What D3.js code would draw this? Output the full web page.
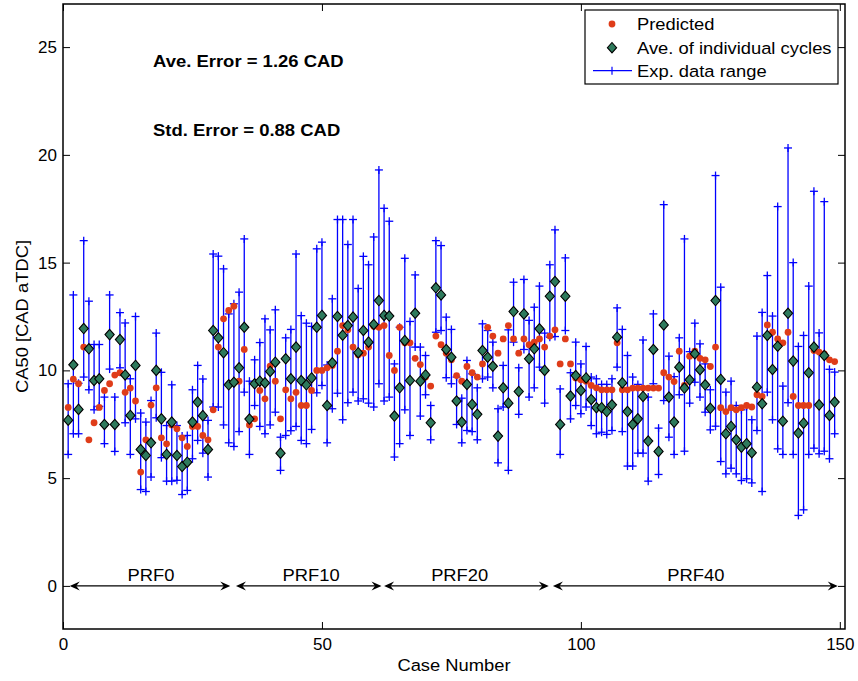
<!DOCTYPE html>
<html>
<head>
<meta charset="utf-8">
<script src="https://cdn.jsdelivr.net/npm/d3@7"></script>
<style>
  html, body { margin: 0; padding: 0; background: #fff; }
  svg { display: block; font-family: "Liberation Sans", Arial, Helvetica, sans-serif; }
</style>
</head>
<body>
<svg id="chart" width="858" height="681"></svg>
<script>
// CA50 per test case: model prediction, mean of individual cycles, experimental min/max
const caseNumbers = d3.range(1, 150);

const predicted = [
  8.28, 9.59, 9.38, 11.08, 6.78, 7.57, 8.28, 9.07, 9.38, 9.78,
  9.89, 8.98, 9.18, 8.58, 5.28, 6.78, 8.39, 9.19, 6.87, 6.59,
  7.47, 7.29, 6.87, 6.47, 7.40, 7.40, 6.98, 6.78, 8.17, 11.08,
  12.39, 12.78, 12.98, 9.50, 10.97, 7.47, 7.75, 9.07, 8.68, 10.20,
  9.50, 7.75, 9.10, 8.68, 8.98, 8.37, 8.37, 9.07, 10.00, 10.00,
  10.12, 10.23, 10.89, 12.08, 11.88, 11.08, 10.72, 10.80, 11.08, 12.05,
  12.00, 12.08, 10.69, 10.00, 12.00, 11.28, 11.28, 10.56, 10.27, 9.69,
  9.27, 11.59, 11.19, 10.80, 10.49, 9.76, 9.50, 10.18, 9.89, 9.69,
  10.30, 12.00, 11.59, 10.80, 11.46, 12.08, 11.46, 10.80, 11.46, 11.19,
  11.31, 11.46, 11.08, 11.59, 11.88, 10.30, 11.46, 10.30, 9.65, 9.56,
  9.50, 9.30, 9.19, 9.10, 9.10, 9.10, 11.28, 9.10, 9.10, 9.18,
  9.18, 9.18, 9.18, 9.18, 9.18, 9.89, 9.69, 9.48, 10.89, 9.30,
  10.66, 10.89, 10.56, 10.49, 10.18, 11.08, 8.27, 8.09, 8.27, 8.17,
  8.27, 8.37, 8.30, 8.87, 8.79, 12.11, 11.77, 11.46, 11.28, 11.77,
  8.79, 8.37, 8.37, 8.37, 10.92, 10.85, 10.77, 10.49, 10.41
];

const aveCycles = [
  7.69, 10.26, 8.19, 11.94, 11.00, 9.53, 9.61, 7.49, 11.66, 7.49,
  11.43, 9.79, 7.91, 10.23, 6.33, 6.05, 6.64, 10.00, 7.75, 6.10,
  7.60, 6.05, 5.54, 5.74, 7.60, 8.53, 7.90, 6.33, 11.85, 11.51,
  10.82, 9.33, 9.45, 10.12, 12.00, 7.74, 9.38, 9.50, 9.42, 9.95,
  10.38, 6.16, 10.54, 9.61, 11.08, 9.53, 9.33, 9.65, 12.00, 12.55,
  8.37, 10.35, 12.50, 11.63, 12.08, 12.47, 10.82, 11.85, 11.31, 12.13,
  13.24, 12.55, 12.52, 7.88, 9.19, 11.38, 9.53, 12.65, 9.50, 9.79,
  7.57, 13.83, 13.50, 10.97, 10.61, 8.58, 7.60, 9.35, 8.42, 7.96,
  10.92, 10.61, 10.19, 6.95, 9.19, 8.48, 12.73, 9.02, 12.62, 10.54,
  11.00, 11.93, 10.00, 13.44, 14.12, 7.49, 13.44, 8.81, 9.76, 9.07,
  9.65, 8.65, 8.27, 8.27, 8.09, 8.40, 11.54, 9.42, 8.09, 7.49,
  7.75, 8.79, 6.72, 10.97, 6.24, 12.11, 8.76, 7.60, 10.15, 9.18,
  9.56, 10.77, 10.03, 9.33, 8.24, 13.24, 9.58, 7.06, 7.40, 6.78,
  6.44, 6.60, 6.18, 9.22, 8.45, 11.62, 10.04, 11.12, 7.64, 12.65,
  10.43, 7.09, 7.55, 9.89, 11.08, 8.40, 10.69, 7.91, 8.53
];

const rangeLow = [
  6.10, 7.06, 7.06, 9.69, 9.10, 8.17, 8.33, 6.60, 10.06, 6.24,
  10.12, 7.57, 6.10, 7.75, 4.47, 4.38, 5.05, 7.80, 5.95, 4.86,
  4.86, 4.90, 4.24, 4.43, 5.90, 6.75, 6.16, 5.05, 8.30, 8.30,
  7.47, 6.64, 6.47, 7.16, 8.99, 6.10, 8.37, 7.40, 7.06, 7.47,
  8.06, 5.36, 6.98, 7.20, 7.40, 6.75, 6.60, 7.26, 8.96, 9.30,
  6.64, 8.22, 8.94, 7.71, 8.50, 8.99, 8.58, 8.68, 8.48, 8.30,
  9.38, 8.58, 8.76, 5.98, 6.60, 8.17, 6.98, 11.08, 7.88, 8.87,
  6.78, 11.77, 11.85, 9.66, 9.38, 7.49, 6.64, 7.21, 7.16, 6.78,
  9.61, 9.69, 9.19, 5.71, 8.30, 5.36, 11.31, 7.96, 10.97, 8.76,
  9.19, 10.15, 8.48, 11.54, 11.57, 6.10, 11.85, 7.75, 8.37, 7.99,
  8.30, 7.44, 7.06, 7.13, 7.03, 7.21, 10.15, 7.16, 5.56, 5.56,
  6.16, 6.16, 4.86, 9.38, 5.17, 8.60, 6.90, 6.10, 8.87, 6.25,
  8.48, 9.45, 8.76, 8.06, 7.24, 7.41, 5.77, 5.20, 5.46, 5.20,
  4.89, 4.97, 4.78, 7.21, 4.38, 8.99, 7.71, 6.36, 6.10, 8.50,
  6.10, 3.27, 3.53, 6.10, 6.39, 6.13, 6.25, 5.90, 7.06
];

const rangeHigh = [
  9.38, 13.50, 9.40, 16.02, 13.21, 11.20, 11.20, 8.76, 13.50, 8.76,
  12.68, 12.20, 9.61, 12.50, 8.02, 7.60, 8.60, 11.73, 9.91, 7.44,
  9.33, 7.44, 6.95, 6.98, 9.10, 10.23, 9.60, 7.68, 15.40, 15.30,
  14.71, 12.62, 13.09, 13.63, 16.10, 9.50, 10.49, 11.29, 12.39, 11.88,
  12.81, 6.90, 11.51, 11.90, 15.40, 12.54, 12.19, 12.04, 15.64, 15.95,
  10.25, 13.32, 17.00, 17.00, 15.84, 17.00, 13.80, 15.29, 14.90, 16.19,
  19.30, 17.52, 16.92, 10.30, 12.00, 15.20, 12.27, 14.43, 11.08, 10.69,
  8.37, 16.02, 15.79, 12.47, 11.90, 9.69, 8.71, 10.46, 9.84, 9.19,
  12.16, 11.85, 11.31, 8.22, 10.23, 11.88, 14.09, 10.12, 14.22, 12.32,
  12.93, 13.91, 11.73, 14.90, 16.52, 9.14, 15.22, 9.89, 11.31, 10.30,
  11.11, 9.69, 9.61, 9.35, 9.35, 9.61, 12.90, 11.90, 10.69, 9.69,
  9.35, 11.41, 8.76, 12.62, 7.32, 17.69, 10.66, 9.71, 11.51, 16.10,
  10.87, 12.19, 11.23, 10.30, 9.10, 19.04, 13.86, 8.99, 9.50, 8.37,
  8.17, 8.33, 7.71, 11.59, 12.69, 14.40, 12.52, 17.60, 9.27, 20.32,
  15.00, 11.11, 11.62, 13.91, 18.31, 11.74, 17.83, 10.05, 9.92
];

// Axis ticks
const xTickValues = [0, 50, 100, 150];
const yTickValues = [0, 5, 10, 15, 20, 25];

// Fuel-reformate groups, marked along CA50 = 0
const prfNames = ["PRF0", "PRF10", "PRF20", "PRF40"];
const prfStart = [1.3, 33.4, 62.0, 94.6];
const prfEnd = [32.3, 61.5, 93.8, 149.6];
const prfLabelAt = [17.0, 47.9, 76.6, 122.2];

const statLines = ["Ave. Error = 1.26 CAD", "Std. Error = 0.88 CAD"];
const legendLabels = ["Predicted", "Ave. of individual cycles", "Exp. data range"];
const axisLabels = { x: "Case Number", y: "CA50 [CAD aTDC]" };

// ---------------------------------------------------------------
const W = 858, H = 681;
const plot = { left: 63, right: 845, top: 4, bottom: 629 };
const colors = { pred: "#df3c19", ave: "#2e7a5c", range: "#0000ff" };
const FONT = 17, SX = 1.08;

const svg = d3.select("#chart");
const x = d3.scaleLinear().domain([0, 151]).range([plot.left, plot.right]);
const y = d3.scaleLinear().domain([-2, 27]).range([plot.bottom, plot.top]);

function label(parent, px, py, str, opt = {}) {
  const size = opt.size || FONT;
  const sx = opt.sx || SX;
  const rot = opt.rotate ? ` rotate(${opt.rotate})` : "";
  return parent.append("text")
    .attr("transform", `translate(${px},${py})${rot} scale(${sx},1)`)
    .attr("text-anchor", opt.anchor || "start")
    .attr("font-size", size)
    .attr("font-weight", opt.weight || "normal")
    .attr("fill", "#000")
    .text(str);
}

svg.append("rect").attr("width", W).attr("height", H).attr("fill", "#fff");

// Axes with inward ticks on all four sides
const tick = -7;
const gx = svg.append("g").attr("transform", `translate(0,${plot.bottom})`)
  .call(d3.axisBottom(x).tickValues(xTickValues).tickSizeInner(tick).tickSizeOuter(0).tickPadding(9));
const gy = svg.append("g").attr("transform", `translate(${plot.left},0)`)
  .call(d3.axisLeft(y).tickValues(yTickValues).tickSizeInner(tick).tickSizeOuter(0).tickPadding(6));
const gt = svg.append("g").attr("transform", `translate(0,${plot.top})`)
  .call(d3.axisTop(x).tickValues(xTickValues).tickSizeInner(tick).tickSizeOuter(0).tickFormat(""));
const gr = svg.append("g").attr("transform", `translate(${plot.right},0)`)
  .call(d3.axisRight(y).tickValues(yTickValues).tickSizeInner(tick).tickSizeOuter(0).tickFormat(""));
[gx, gy, gt, gr].forEach(g => {
  g.select(".domain").remove();
  g.selectAll(".tick line").attr("stroke", "#000").attr("stroke-width", 1);
  g.selectAll(".tick text").attr("font-size", FONT).attr("fill", "#000")
    .attr("font-family", "Liberation Sans, Arial, sans-serif");
});

// Group arrows along zero
const arrowG = svg.append("g");
const headLen = 10, headHalf = 4.5, notch = 3.5;
prfNames.forEach((name, i) => {
  const x0 = x(prfStart[i]), x1 = x(prfEnd[i]), y0 = y(0);
  arrowG.append("line").attr("x1", x0 + 2).attr("x2", x1 - 2)
    .attr("y1", y0).attr("y2", y0).attr("stroke", "#000").attr("stroke-width", 1.2);
  [[x0, 1], [x1, -1]].forEach(([tx, d]) => {
    const p = d3.path();
    p.moveTo(tx, y0);
    p.lineTo(tx + d * headLen, y0 - headHalf);
    p.lineTo(tx + d * (headLen - notch), y0);
    p.lineTo(tx + d * headLen, y0 + headHalf);
    p.closePath();
    arrowG.append("path").attr("d", p.toString()).attr("fill", "#000");
  });
  label(arrowG, x(prfLabelAt[i]), y(0) - 5, name, { anchor: "middle" });
});

// Experimental range: vertical line with + at each end
const rangeG = svg.append("g").attr("stroke", colors.range).attr("stroke-width", 1.3).attr("fill", "none");
const plus = 4;
caseNumbers.forEach((c, i) => {
  const cx = x(c), yl = y(rangeLow[i]), yh = y(rangeHigh[i]);
  rangeG.append("line").attr("x1", cx).attr("x2", cx).attr("y1", yl).attr("y2", yh);
  [yl, yh].forEach(yy => {
    rangeG.append("line").attr("x1", cx - plus).attr("x2", cx + plus).attr("y1", yy).attr("y2", yy);
    rangeG.append("line").attr("x1", cx).attr("x2", cx).attr("y1", yy - plus).attr("y2", yy + plus);
  });
});

// Predicted CA50
svg.append("g").selectAll("circle").data(caseNumbers).join("circle")
  .attr("cx", d => x(d)).attr("cy", (d, i) => y(predicted[i]))
  .attr("r", 3.4).attr("fill", colors.pred);

// Mean of individual cycles
const diamond = "M0,-5.2L4.6,0L0,5.2L-4.6,0Z";
svg.append("g").selectAll("path").data(caseNumbers).join("path")
  .attr("d", diamond)
  .attr("transform", (d, i) => `translate(${x(d)},${y(aveCycles[i])})`)
  .attr("fill", colors.ave).attr("stroke", "#000").attr("stroke-width", 1.1);

// Plot frame
svg.append("rect").attr("x", plot.left).attr("y", plot.top)
  .attr("width", plot.right - plot.left).attr("height", plot.bottom - plot.top)
  .attr("fill", "none").attr("stroke", "#000").attr("stroke-width", 1.5);

// Error statistics
label(svg, 153, 66.5, statLines[0], { weight: "bold", size: 16.5, sx: 1.12 });
label(svg, 153, 135.5, statLines[1], { weight: "bold", size: 16.5, sx: 1.12 });

// Legend
const lg = svg.append("g");
lg.append("rect").attr("x", 585).attr("y", 10).attr("width", 253).attr("height", 74)
  .attr("fill", "#fff").attr("stroke", "#000").attr("stroke-width", 1.2);
const rowY = [24, 47.7, 70.7], mx = 612;
lg.append("circle").attr("cx", mx).attr("cy", rowY[0]).attr("r", 3.4).attr("fill", colors.pred);
lg.append("path").attr("d", diamond).attr("transform", `translate(${mx},${rowY[1]})`)
  .attr("fill", colors.ave).attr("stroke", "#000").attr("stroke-width", 1.1);
lg.append("line").attr("x1", 593).attr("x2", 632).attr("y1", rowY[2]).attr("y2", rowY[2])
  .attr("stroke", colors.range).attr("stroke-width", 1.2);
lg.append("line").attr("x1", mx).attr("x2", mx).attr("y1", rowY[2] - plus).attr("y2", rowY[2] + plus)
  .attr("stroke", colors.range).attr("stroke-width", 1.2);
legendLabels.forEach((t, i) => label(lg, 637, rowY[i] + 6, t));

// Axis titles
label(svg, (plot.left + plot.right) / 2, 670.5, axisLabels.x, { anchor: "middle" });
label(svg, 28, (plot.top + plot.bottom) / 2, axisLabels.y, { anchor: "middle", rotate: -90 });
</script>
</body>
</html>
